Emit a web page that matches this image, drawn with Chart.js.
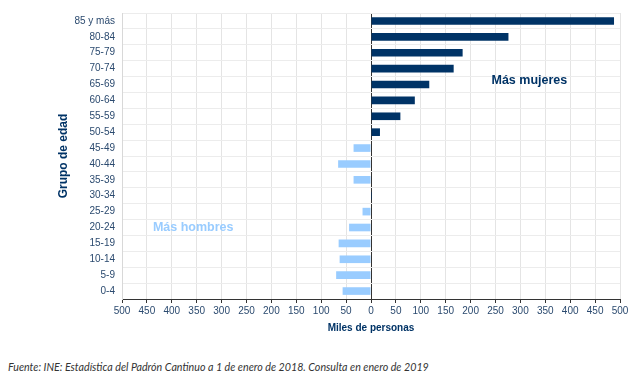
<!DOCTYPE html>
<html>
<head>
<meta charset="utf-8">
<script src="https://cdn.jsdelivr.net/npm/chart.js@4"></script>
<style>
  body { margin: 0; background: #fff; }
  #caja { position: relative; width: 640px; height: 381px; }
  #fuente {
    position: absolute; left: 8px; top: 360px;
    font: italic 10.7px Lato, "Liberation Sans", sans-serif; color: #333;
  }
</style>
</head>
<body>
<div id="caja">
  <canvas id="graficoEdad" width="640" height="338"></canvas>
  <div id="fuente">Fuente: INE: Estadística del Padrón Cantinuo a 1 de enero de 2018. Consulta en enero de 2019</div>
</div>
<script>
// grupos de edad (de arriba a abajo, como en el grafico)
const grupos = ['85 y más', '80-84', '75-79', '70-74', '65-69', '60-64', '55-59', '50-54',
  '45-49', '40-44', '35-39', '30-34', '25-29', '20-24', '15-19', '10-14', '5-9', '0-4'];
// diferencia mujeres - hombres, miles de personas
const diferencia = [488, 276, 184, 166, 117, 88, 59, 18,
  -35, -66, -35, 2, -17, -44, -65, -63, -70, -57];
// marcas del eje x
const marcasX = [-500, -450, -400, -350, -300, -250, -200, -150, -100, -50, 0,
  50, 100, 150, 200, 250, 300, 350, 400, 450, 500];

const azulOscuro = '#003366';
const azulClaro = '#99ccff';
const colorTexto = '#2b4a6f';

// textos "Mas mujeres" / "Mas hombres" dentro del grafico
const textos = {
  id: 'textos',
  afterDatasetsDraw(chart) {
    const c = chart.ctx, x = chart.scales.x, y = chart.scales.y;
    c.save();
    c.font = 'bold 12.5px "Liberation Sans", Arial, sans-serif';
    c.textAlign = 'center';
    c.textBaseline = 'middle';
    c.fillStyle = azulOscuro;
    c.fillText('Más mujeres', x.getPixelForValue(318), y.getPixelForValue(4) - 4);
    c.fillStyle = azulClaro;
    c.fillText('Más hombres', x.getPixelForValue(-357), y.getPixelForValue(13));
    c.restore();
  }
};

new Chart(document.getElementById('graficoEdad'), {
  type: 'bar',
  data: {
    labels: grupos,
    datasets: [{
      label: 'Diferencia',
      data: diferencia,
      backgroundColor: diferencia.map(v => v >= 0 ? azulOscuro : azulClaro),
      categoryPercentage: 1,
      barPercentage: 0.48
    }]
  },
  options: {
    indexAxis: 'y',
    responsive: false,
    animation: false,
    layout: { padding: { left: 52, right: 20, top: 9, bottom: 0 } },
    plugins: { legend: { display: false }, tooltip: { enabled: false } },
    scales: {
      x: {
        min: -500, max: 500,
        afterBuildTicks: s => { s.ticks = marcasX.map(v => ({ value: v })); },
        grid: {
          color: c => c.tick && c.tick.value === 0 ? '#333' : '#e4e4e4',
          tickColor: '#333', tickLength: 4
        },
        border: { color: '#333' },
        ticks: {
          color: colorTexto, padding: 2, maxRotation: 0,
          font: { family: '"Liberation Sans", Arial, sans-serif', size: 10 },
          callback: v => Math.abs(v)
        },
        title: {
          display: true, text: 'Miles de personas', color: azulOscuro,
          font: { family: '"Liberation Sans", Arial, sans-serif', size: 10, weight: 'bold' },
          padding: { top: 3 }
        }
      },
      y: {
        grid: { color: '#ececec', tickLength: 0 },
        border: { color: '#d8d8d8' },
        ticks: {
          color: colorTexto, padding: 7,
          font: { family: '"Liberation Sans", Arial, sans-serif', size: 10 }
        },
        title: {
          display: true, text: 'Grupo de edad', color: azulOscuro,
          font: { family: '"Liberation Sans", Arial, sans-serif', size: 12, weight: 'bold' },
          padding: { bottom: 0 }
        },
        afterFit: s => { s.width = 70; }
      }
    }
  },
  plugins: [textos]
});
</script>
</body>
</html>
